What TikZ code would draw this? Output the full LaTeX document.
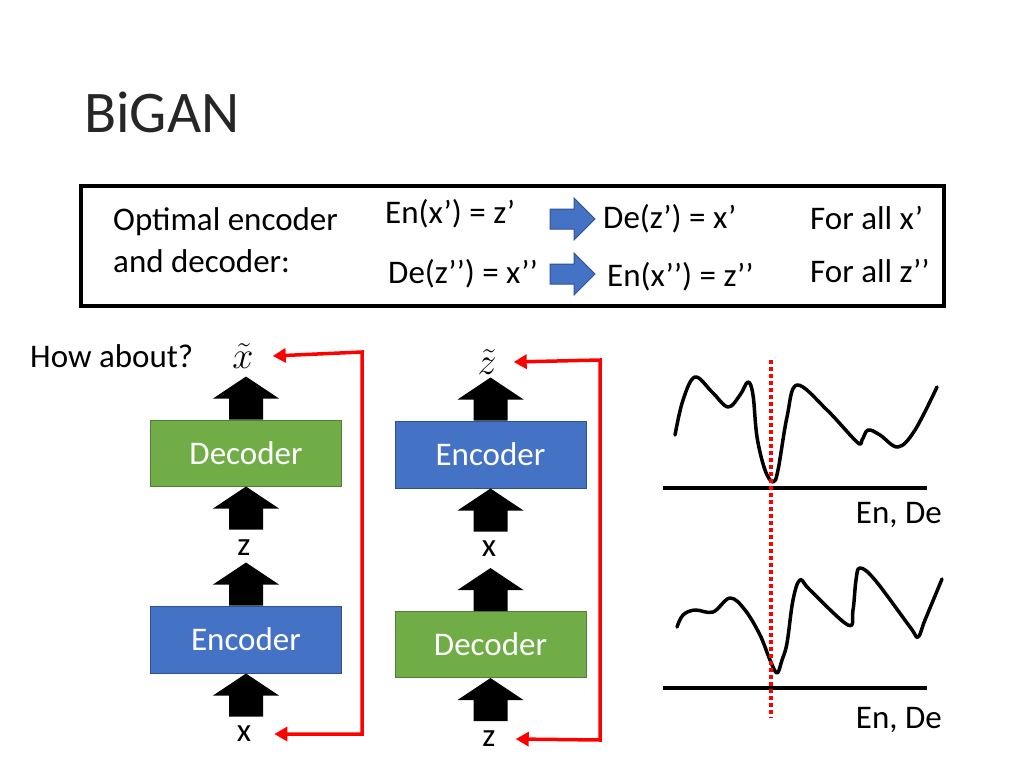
\documentclass[tikz,border=0pt]{standalone}
\usepackage{fix-cm}
\usepackage{graphicx}
\usepackage{fontspec}
\setmainfont{Carlito}
\usepackage{tikz}
\usetikzlibrary{arrows.meta}
\usetikzlibrary{calc}
\definecolor{encblue}{HTML}{4472C4}
\definecolor{encline}{HTML}{2F528F}
\definecolor{decgreen}{HTML}{70AD47}
\definecolor{decline}{HTML}{507E32}
\definecolor{titlegray}{HTML}{262626}
\newcommand{\blockup}[1]{\fill #1 ++(-17,0) -- ++(0,-21) -- ++(-16,0) -- ++(33,-22) -- ++(33,22) -- ++(-16,0) -- ++(0,21) -- cycle;}

\begin{document}
\begin{tikzpicture}[x=1pt,y=-1pt,
    every node/.style={inner sep=0pt},
    txt/.style={font=\fontsize{33}{40}\selectfont},
    enc/.style={fill=encblue,draw=encline,line width=1pt,minimum width=191,minimum height=67,text=white,font=\fontsize{33}{40}\selectfont},
    dec/.style={fill=decgreen,draw=decline,line width=1pt,minimum width=191,minimum height=66,text=white,font=\fontsize{33}{40}\selectfont},
    loop/.style={draw=red,line width=3.5pt,{Triangle[length=13pt,width=14pt]}-{Triangle[length=13pt,width=14pt]}},
    curve/.style={line width=3.5pt,line cap=round,line join=round}]
    \useasboundingbox (0,0) rectangle (1024,768);
    \node[anchor=base west,text=titlegray,font=\fontsize{59}{66}\selectfont] (title) at (84,132) {BiGAN};
    \node[draw,line width=3.5pt,minimum width=863,minimum height=120,anchor=north west] (cond) at (79,184) {};
    \node[txt,anchor=base west] (opt1) at (113,230) {Optimal encoder};
    \node[txt,anchor=base west] (opt2) at (113,272) {and decoder:};
    \node[txt,anchor=base west] (e1) at (385,223) {En(x’) = z’};
    \node[txt,anchor=base west] (d1) at (603,228) {De(z’) = x’};
    \node[txt,anchor=base west] (a1) at (810,229) {For all x’};
    \node[txt,anchor=base west] (d2) at (388,283) {De(z’’) = x’’};
    \node[txt,anchor=base west] (e2) at (607,286) {En(x’’) = z’’};
    \node[txt,anchor=base west] (a2) at (810,282) {For all z’’};
    \foreach \y in {219,274}
        \filldraw[fill=encblue,draw=encline,line width=1pt] (550,\y-10) -- (574,\y-10) -- (574,\y-21) -- (595,\y) -- (574,\y+21) -- (574,\y+10) -- (550,\y+10) -- cycle;

    \node[txt,anchor=base west] (how) at (30,367) {How about?};
    \node[txt] (xtil) at (243,356) {\scalebox{1.15}{$\tilde{x}$}};
    \node[dec] (ldec) at (246,453) {Decoder};
    \node[txt] (lz) at (244,548) {z};
    \node[enc] (lenc) at (246,639.5) {Encoder};
    \node[txt] (lx) at (244,734) {x};
    \blockup{(ldec.north)}
    \blockup{([yshift=-43pt]ldec.south)}
    \blockup{(lenc.north)}
    \blockup{([yshift=-43pt]lenc.south)}
    \draw[loop] ([xshift=19pt]xtil.east) -- (362,352) -- (362,734) -- ([xshift=23pt]lx.east);

    \node[txt] (ztil) at (487,362) {\scalebox{1.15}{$\tilde{z}$}};
    \node[enc] (renc) at (490.5,454.5) {Encoder};
    \node[txt] (rx) at (489,549) {x};
    \node[dec] (rdec) at (490.5,644.5) {Decoder};
    \node[txt] (rz) at (489,739) {z};
    \blockup{(renc.north)}
    \blockup{([yshift=-43pt]renc.south)}
    \blockup{(rdec.north)}
    \blockup{([yshift=-43pt]rdec.south)}
    \draw[loop] ([xshift=17pt]ztil.east) -- (600,360) -- (600,740) -- ([xshift=20pt]rz.east);

    \draw[curve] plot[smooth,tension=0.6] coordinates {(675,435) (683,400) (695,377) (712,392) (728,407) (740,395) (748,382) (753,395) (757,437) (765,470) (773,482) (778,470) (787,417) (797,385) (827,410) (857,442) (862,440) (868,430) (880,435) (898,447) (915,430) (937,387)};
    \draw[line width=4pt] (663,488) -- (927,488);
    \node[txt,anchor=east] (lab1) at (942,515) {En, De};
    \draw[curve] plot[smooth,tension=0.6] coordinates {(677,627) (683,615) (695,610) (713,612) (730,598) (745,610) (760,635) (770,660) (777,673) (782,660) (787,643) (793,600) (800,580) (810,590) (848,625) (853,610) (856,580) (860,568) (875,580) (910,627) (918,637) (925,620) (942,579)};
    \draw[line width=4pt] (663,688) -- (927,688);
    \node[txt,anchor=east] (lab2) at (942,720) {En, De};
    \draw[red,line width=4pt,dash pattern=on 4pt off 3pt] (771,360) -- (771,718);
\end{tikzpicture}
\end{document}
